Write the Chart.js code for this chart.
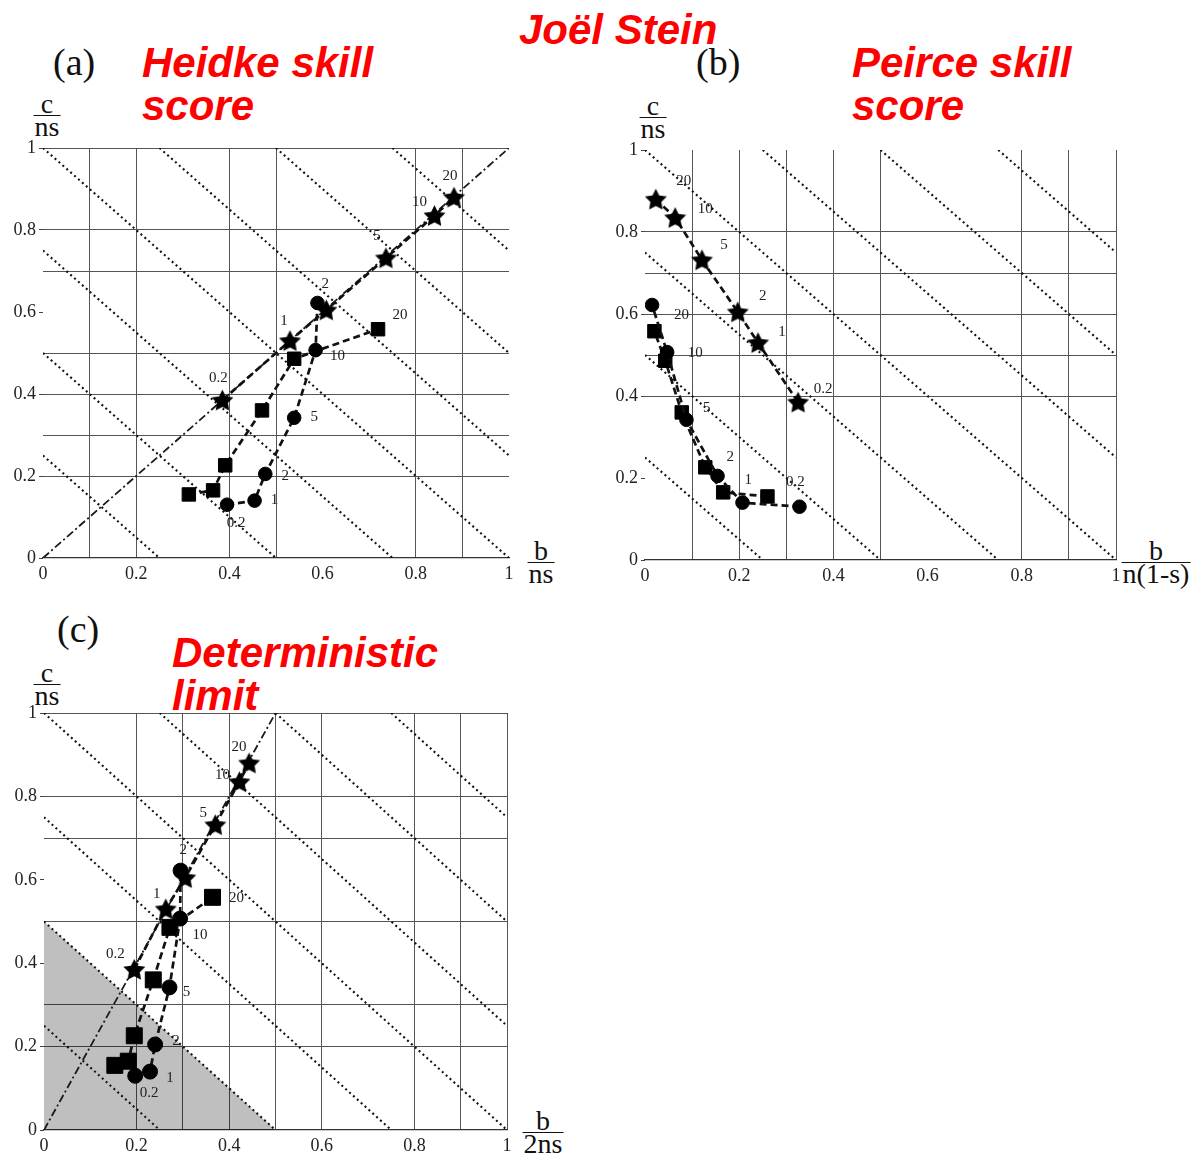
<!DOCTYPE html>
<html><head><meta charset="utf-8">
<script src="https://cdn.jsdelivr.net/npm/chart.js@4.4.1/dist/chart.umd.min.js"></script>
<style>
body{margin:0;background:#fff;width:1196px;height:1156px;position:relative;overflow:hidden}
canvas{position:absolute}
.t{position:absolute;color:#f00;font:italic bold 42px "Liberation Sans",Arial,sans-serif;line-height:43px;white-space:nowrap}
.p{position:absolute;font:38px "Liberation Serif",serif;line-height:36px;color:#111;white-space:nowrap}
.frac{position:absolute;font:28px "Liberation Serif",serif;line-height:22px;text-align:center;transform:translateX(-50%);color:#111;white-space:nowrap}
.frac .den{border-top:1.6px solid #111;padding:0 1px}
</style></head><body>
<div class="t" style="left:519px;top:8px">Joël Stein</div>
<div class="p" style="left:53px;top:44px">(a)</div>
<div class="t" style="left:142px;top:41px">Heidke skill<br>score</div>
<div class="p" style="left:696px;top:44px">(b)</div>
<div class="t" style="left:852px;top:41px">Peirce skill<br>score</div>
<div class="p" style="left:57px;top:611px">(c)</div>
<div class="t" style="left:172px;top:631px">Deterministic<br>limit</div>

<div class="frac" style="left:47px;top:93px"><div>c</div><div class="den">ns</div></div>
<div class="frac" style="left:541px;top:540px"><div>b</div><div class="den">ns</div></div>
<div class="frac" style="left:653px;top:95px"><div>c</div><div class="den">ns</div></div>
<div class="frac" style="left:1156px;top:540px"><div>b</div><div class="den">n(1-s)</div></div>
<div class="frac" style="left:47px;top:662px"><div>c</div><div class="den">ns</div></div>
<div class="frac" style="left:543px;top:1110px"><div>b</div><div class="den">2ns</div></div>

<canvas id="ca" width="600" height="470" style="left:0px;top:130px"></canvas>
<canvas id="cb" width="596" height="470" style="left:600px;top:130px"></canvas>
<canvas id="cc" width="600" height="466" style="left:0px;top:690px"></canvas>
<script>
// ---------------- data ----------------
const thresholds = ['0.2','1','2','5','10','20'];
const tickLabels = ['0','0.2','0.4','0.6','0.8','1'];
// c/ns (shared vertical coordinate)
const cStar   = [0.385, 0.53, 0.605, 0.732, 0.835, 0.88];
const cCircle = [0.13, 0.14, 0.205, 0.342, 0.507, 0.622];
const cSquare = [0.155, 0.165, 0.226, 0.36, 0.486, 0.558];
// (a) b/ns
const heidkeStar   = [0.385, 0.53, 0.608, 0.736, 0.84, 0.882];
const heidkeCircle = [0.395, 0.454, 0.477, 0.539, 0.585, 0.589];
const heidkeSquare = [0.313, 0.365, 0.391, 0.47, 0.539, 0.719];
// (b) b/n(1-s)
const peirceStar   = [0.325, 0.24, 0.197, 0.121, 0.064, 0.023];
const peirceCircle = [0.328, 0.207, 0.154, 0.088, 0.047, 0.015];
const peirceSquare = [0.26, 0.166, 0.128, 0.078, 0.043, 0.02];
// (c) b/2ns
const detStar   = [0.195, 0.263, 0.305, 0.37, 0.422, 0.443];
const detCircle = [0.197, 0.229, 0.24, 0.271, 0.294, 0.295];
const detSquare = [0.153, 0.182, 0.195, 0.236, 0.272, 0.364];
// reference lines
const isoLevels = [0.25, 0.5, 0.75, 1, 1.25, 1.5, 1.75];   // x + y = level
const gridA_x = [0.1, 0.2, 0.4, 0.5, 0.8, 0.9];
const gridA_y = [0.2, 0.3, 0.4, 0.5, 0.7, 0.8, 1];
const gridB_x = [0.1, 0.2, 0.3, 0.4, 0.5, 0.8, 0.9, 1];
const gridB_y = [0.4, 0.5, 0.6, 0.7, 0.8];
const gridC_x = [0.2, 0.3, 0.4, 0.5, 0.6, 0.8, 0.9, 1];
const gridC_y = [0.2, 0.3, 0.5, 0.7, 0.8, 1];
const diagSlopeA = 1;      // y = x
const diagSlopeC = 2;      // y = 2x
const deterministicLimit = 0.5;  // shaded x + y <= 0.5

// ---------------- helpers ----------------
function starImg(R){
  const r = R*0.5, s = Math.ceil(2*R+2);
  const c = document.createElement('canvas'); c.width = c.height = s;
  const g = c.getContext('2d'); g.translate(s/2, s/2 + R*0.08);
  g.beginPath();
  for (let i=0;i<10;i++){ const a=-Math.PI/2+i*Math.PI/5, rr=i%2?r:R; g.lineTo(rr*Math.cos(a), rr*Math.sin(a)); }
  g.closePath(); g.fillStyle='#000'; g.fill();
  return c;
}
const pts = (xs, ys) => xs.map((x,i)=>({x, y:ys[i]}));
const r1 = v => Math.round(v*10)/10;
const inList = (v, list) => list.some(g => Math.abs(g - r1(v)) < 1e-6);

const pointLabels = {
  id:'pointLabels',
  afterDatasetsDraw(chart){
    const ctx = chart.ctx;
    chart.data.datasets.forEach((ds,i)=>{
      if(!ds.ptOffsets) return;
      const meta = chart.getDatasetMeta(i);
      ctx.save();
      ctx.font = '15px "Liberation Serif", serif';
      ctx.fillStyle = '#222'; ctx.textAlign='center'; ctx.textBaseline='middle';
      meta.data.forEach((el,j)=>{
        const o = ds.ptOffsets[j]; if(!o) return;
        ctx.fillText(thresholds[j], el.x+o[0], el.y+o[1]);
      });
      ctx.restore();
    });
  }
};

function isoDatasets(){
  return isoLevels.map(k => ({
    data: k <= 1 ? [{x:0,y:k},{x:k,y:0}] : [{x:k-1,y:1},{x:1,y:k-1}],
    showLine:true, pointRadius:0, borderColor:'#111', borderWidth:2.1,
    borderDash:[2,3.2], order:5
  }));
}
function diagDataset(s){
  return { data:[{x:0,y:0},{x:Math.min(1,1/s), y:Math.min(1,s)}], showLine:true, pointRadius:0,
    borderColor:'#1a1a1a', borderWidth:1.8, borderDash:[8,3,2,3], order:4 };
}
function series(data, style, radius, offsets){
  return { data, showLine:true, borderColor:'#111', borderWidth:2.7, borderDash:[7,4],
    pointStyle:style, pointRadius:radius, pointBackgroundColor:'#000', pointBorderColor:'#000',
    pointBorderWidth:1, order:0, ptOffsets:offsets };
}

function makeChart(id, datasets, gx, gy, pad, yw, xh){
  new Chart(document.getElementById(id), {
    type:'scatter',
    data:{ datasets },
    plugins:[pointLabels],
    options:{
      responsive:false, animation:false, devicePixelRatio:1, events:[],
      layout:{ padding:pad },
      plugins:{ legend:{display:false}, tooltip:{enabled:false} },
      scales:{
        x:{ type:'linear', min:0, max:1,
          afterFit(s){ s.height = xh; },
          ticks:{ stepSize:0.1, autoSkip:false, maxRotation:0, padding:5, color:'#222',
            font:{family:'"Liberation Serif", serif', size:18},
            callback:(v,i)=> i%2===0 ? tickLabels[i/2] : '' },
          grid:{ drawTicks:false, lineWidth:1,
            color: c => (c.tick && inList(c.tick.value, gx)) ? '#555' : 'rgba(0,0,0,0)' },
          border:{ display:true, color:'#333', width:1.2 }
        },
        y:{ type:'linear', min:0, max:1,
          afterFit(s){ s.width = yw; },
          ticks:{ stepSize:0.1, autoSkip:false, padding:3, color:'#222',
            font:{family:'"Liberation Serif", serif', size:18},
            callback:(v,i)=> i%2===0 ? tickLabels[i/2] : '' },
          grid:{ drawTicks:true, tickLength:4, lineWidth:1,
            color: c => (c.tick && inList(c.tick.value, gy)) ? '#555' : 'rgba(0,0,0,0)',
            tickColor: c => (c.index%2===0) ? '#444' : 'rgba(0,0,0,0)' },
          border:{ display:false }
        }
      }
    }
  });
}

// ---------------- panel (a) ----------------
makeChart('ca', [
  series(pts(heidkeStar, cStar), starImg(11.5), 11, [[-4,-22],[-6,-20],[-1,-26],[-9,-22],[-15,-14],[-4,-21]]),
  series(pts(heidkeCircle, cCircle), 'circle', 6.8, [[9,18],[20,-1],[20,2],[20,-1],[22,6],null]),
  series(pts(heidkeSquare, cSquare), 'rect', 9.5, [null,null,null,null,null,[22,-14]]),
  diagDataset(diagSlopeA),
  ...isoDatasets()
], gridA_x, gridA_y, {left:0, top:18, right:91, bottom:10}, 43, 32);

// ---------------- panel (b) ----------------
makeChart('cb', [
  series(pts(peirceStar, cStar), starImg(11.5), 11, [[25,-13],[24,-11],[25,-16],[22,-15],[30,-9],[28,-18]]),
  series(pts(peirceCircle, cCircle), 'circle', 6.8, null),
  series(pts(peirceSquare, cSquare), 'rect', 9.5, [[28,-14],[25,-12],[25,-10],[25,-4],[30,-8],[27,-16]]),
  ...isoDatasets()
], gridB_x, gridB_y, {left:0, top:20, right:80, bottom:8}, 45, 32);

// ---------------- panel (c) ----------------
makeChart('cc', [
  series(pts(detStar, cStar), starImg(11.5), 11, [[-19,-15],[-9,-15],[-2,-28],[-12,-12],[-17,-7],[-10,-16]]),
  series(pts(detCircle, cCircle), 'circle', 7.5, [[14,17],[20,6],[21,-3],[17,5],[20,16],null]),
  series(pts(detSquare, cSquare), 'rect', 11.3, [null,null,null,null,null,[24,1]]),
  diagDataset(diagSlopeC),
  ...isoDatasets(),
  { data:[{x:0,y:deterministicLimit},{x:deterministicLimit,y:0}], showLine:true, pointRadius:0,
    borderWidth:0, borderColor:'rgba(0,0,0,0)', fill:'origin', backgroundColor:'rgba(0,0,0,0.25)', order:10 }
], gridC_x, gridC_y, {left:0, top:23, right:93, bottom:2}, 44, 24);
</script>
</body></html>
